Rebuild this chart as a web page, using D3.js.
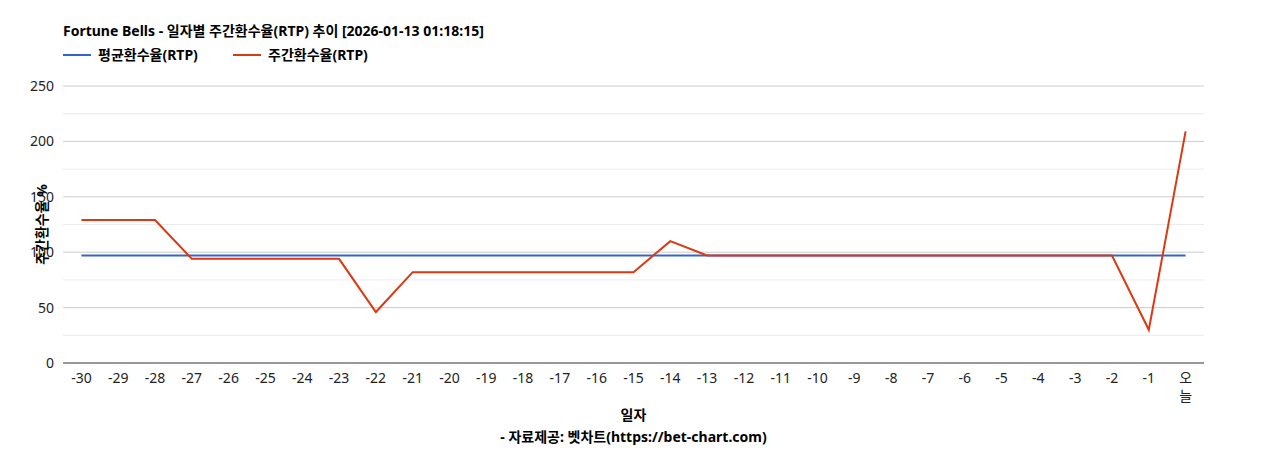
<!DOCTYPE html>
<html><head><meta charset="utf-8">
<script src="https://cdn.jsdelivr.net/npm/d3@7"></script>
<style>body{margin:0;background:#fff;font-family:"Noto Sans","Noto Sans CJK KR",sans-serif;}</style>
</head><body><div id="chart"></div>
<script>
var days = [];
for (var i = -30; i <= -1; i++) days.push(String(i));
days.push("오늘");
var weeklyRtp = [129,129,129,94,94,94,94,94,46,82,82,82,82,82,82,82,110,97,97,97,97,97,97,97,97,97,97,97,97,30,209];
var avgRtp = 97;
var yTicks = [0,50,100,150,200,250];

var svgWidth = 1268, svgHeight = 450;
var margin = {top: 86, right: 64, bottom: 87, left: 63};
var width = svgWidth - margin.left - margin.right;
var height = svgHeight - margin.top - margin.bottom;

var svg = d3.select("#chart").append("svg").attr("width", svgWidth).attr("height", svgHeight);
var g = svg.append("g").attr("transform", `translate(${margin.left},${margin.top})`);

var x = d3.scaleBand().domain(days).range([0, width]);
var y = d3.scaleLinear().domain([0, 250]).range([height, 0]);
var cx = d => x(d) + x.bandwidth() / 2;

// grid
g.selectAll(".minor").data(d3.range(25, 250, 50)).enter().append("line")
  .attr("x1", 0).attr("x2", width).attr("y1", d => y(d)).attr("y2", d => y(d)).attr("stroke", "#ebebeb");
g.selectAll(".major").data(yTicks.slice(1)).enter().append("line")
  .attr("x1", 0).attr("x2", width).attr("y1", d => y(d)).attr("y2", d => y(d)).attr("stroke", "#cccccc");

g.selectAll(".yl").data(yTicks).enter().append("text")
  .attr("x", -9).attr("y", d => y(d)).attr("dy", "0.35em").attr("text-anchor", "end")
  .style("font-size", "14px").attr("fill", "#222").text(d => d);

g.append("line").attr("x1", 0).attr("x2", width).attr("y1", height).attr("y2", height).attr("stroke", "#333");

g.selectAll(".xl").data(days).enter().append("text")
  .attr("x", d => cx(d)).attr("y", height + 20).attr("text-anchor", "middle")
  .style("font-size", "14px").attr("fill", "#222")
  .each(function(d) {
    var t = d3.select(this);
    if (d === "오늘") {
      t.append("tspan").attr("x", cx(d)).text("오");
      t.append("tspan").attr("x", cx(d)).attr("dy", 18).text("늘");
    } else t.text(d);
  });

// average line
g.append("line").attr("x1", cx(days[0])).attr("x2", cx(days[days.length - 1]))
  .attr("y1", y(avgRtp)).attr("y2", y(avgRtp)).attr("stroke", "#3366cc").attr("stroke-width", 2);

var line = d3.line().x((d, i) => cx(days[i])).y(d => y(d));
g.append("path").datum(weeklyRtp).attr("d", line).attr("fill", "none")
  .attr("stroke", "#dc3912").attr("stroke-width", 2);

// titles
svg.append("text").attr("x", 63).attr("y", 36).style("font-size", "14px").style("font-weight", "bold")
  .text("Fortune Bells - 일자별 주간환수율(RTP) 추이 [2026-01-13 01:18:15]");
var legend = [["평균환수율(RTP)", "#3366cc", 63], ["주간환수율(RTP)", "#dc3912", 233]];
legend.forEach(function(l) {
  svg.append("line").attr("x1", l[2]).attr("x2", l[2] + 28).attr("y1", 55).attr("y2", 55).attr("stroke", l[1]).attr("stroke-width", 2);
  svg.append("text").attr("x", l[2] + 35).attr("y", 60).style("font-size", "14px").style("font-weight", "bold").text(l[0]);
});
svg.append("text").attr("transform", `translate(47,${margin.top + height / 2}) rotate(-90)`)
  .attr("text-anchor", "middle").style("font-size", "14px").style("font-weight", "bold").text("주간환수율 %");
svg.append("text").attr("x", margin.left + width / 2).attr("y", 420).attr("text-anchor", "middle")
  .style("font-size", "14px").style("font-weight", "bold").text("일자");
svg.append("text").attr("x", margin.left + width / 2).attr("y", 442).attr("text-anchor", "middle")
  .style("font-size", "14px").style("font-weight", "bold").text("- 자료제공: 벳차트(https://bet-chart.com)");
</script></body></html>
